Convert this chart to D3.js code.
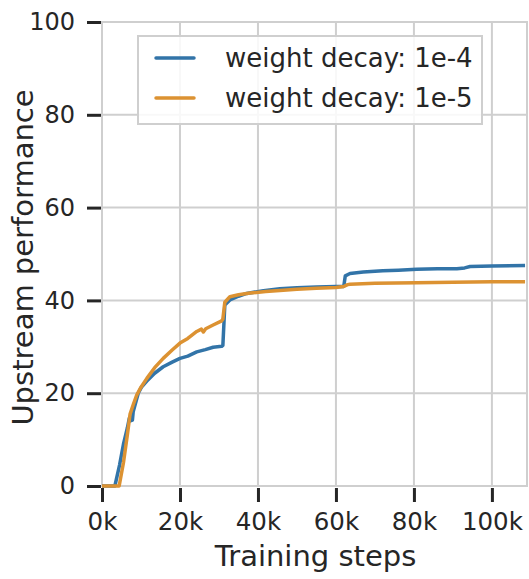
<!DOCTYPE html>
<html>
<head>
<meta charset="utf-8">
<script src="https://cdn.jsdelivr.net/npm/d3@7"></script>
<style>
  html, body { margin: 0; padding: 0; background: #fff; }
  text { font-family: "DejaVu Sans", sans-serif; fill: #262626; }
</style>
</head>
<body>
<svg id="chart" width="529" height="579"></svg>
<script>
// ---- data (training steps in thousands) ----
const xTicks = [0, 20, 40, 60, 80, 100];
const xTickLabels = ["0k", "20k", "40k", "60k", "80k", "100k"];
const yTicks = [0, 20, 40, 60, 80, 100];
const seriesNames = ["weight decay: 1e-4", "weight decay: 1e-5"];
const seriesColors = ["#3274a8", "#dc9232"];

const stepsWD4 = [0, 3.3, 4.5, 5.5, 6.5, 7.0, 7.1, 7.8, 8.0, 9.3, 10.2, 11.5, 13.5, 15.7, 18, 20, 22, 24.3, 26.5, 28.5, 30.7, 31.0, 31.5, 32.8, 35, 37.1, 41.4, 45.6, 50, 55, 60, 62.0, 62.4, 63.6, 67, 72, 76, 80.7, 86, 91, 93, 94.4, 100, 108.5];
const valuesWD4 = [0, 0, 4.5, 9.0, 12.5, 14.6, 14.0, 14.2, 16.0, 20.0, 21.4, 22.6, 24.3, 25.7, 26.7, 27.5, 28.0, 28.9, 29.4, 29.9, 30.1, 30.3, 39.0, 40.1, 40.9, 41.5, 42.1, 42.5, 42.7, 42.9, 43.0, 43.0, 45.3, 45.8, 46.1, 46.4, 46.5, 46.7, 46.8, 46.8, 47.0, 47.3, 47.4, 47.5];

const stepsWD5 = [0, 4.4, 5.5, 6.5, 7.2, 8.0, 8.9, 10.0, 11.5, 13.5, 15.7, 18, 20, 22, 24.3, 25.5, 26.0, 26.6, 28.5, 30.7, 31.0, 31.5, 32.8, 35, 38, 42, 46.5, 50, 55, 60, 62.0, 63.0, 63.6, 70, 80.7, 90, 100, 108.5];
const valuesWD5 = [0, 0, 5.0, 11.0, 15.5, 17.5, 19.6, 21.3, 23.2, 25.5, 27.5, 29.3, 30.8, 31.8, 33.3, 33.8, 33.2, 33.9, 34.7, 35.6, 36.0, 39.6, 40.8, 41.2, 41.6, 41.9, 42.2, 42.4, 42.6, 42.8, 43.0, 43.4, 43.5, 43.7, 43.8, 43.9, 44.0, 44.0];

// ---- layout ----
const svg = d3.select("#chart");
const plotL = 102, plotR = 527, plotT = 22, plotB = 486;

const x = d3.scaleLinear().domain([0, 109]).range([plotL, plotR]);
const y = d3.scaleLinear().domain([0, 100]).range([plotB, plotT]);

// grid
const grid = svg.append("g");
grid.selectAll("line.vx").data(xTicks).enter().append("line")
  .attr("x1", d => x(d)).attr("x2", d => x(d))
  .attr("y1", plotT).attr("y2", plotB)
  .attr("stroke", "#cfcfcf").attr("stroke-width", 2);
grid.selectAll("line.hy").data(yTicks).enter().append("line")
  .attr("x1", plotL).attr("x2", plotR)
  .attr("y1", d => y(d)).attr("y2", d => y(d))
  .attr("stroke", "#cfcfcf").attr("stroke-width", 2);
// frame
svg.append("rect")
  .attr("x", plotL).attr("y", plotT)
  .attr("width", plotR - plotL).attr("height", plotB - plotT)
  .attr("fill", "none").attr("stroke", "#cfcfcf").attr("stroke-width", 2);

// axes
const xAxis = d3.axisBottom(x).tickValues(xTicks)
  .tickFormat((d, i) => xTickLabels[i]).tickSize(14).tickPadding(11);
const gx = svg.append("g").attr("transform", `translate(0,${plotB + 2})`).call(xAxis);
gx.select(".domain").remove();
gx.selectAll(".tick line").attr("stroke", "#262626").attr("stroke-width", 3);
gx.selectAll(".tick text").attr("font-size", 24.5).style("fill", "#262626")
  .attr("font-family", "DejaVu Sans, sans-serif");

const yAxis = d3.axisLeft(y).tickValues(yTicks).tickSize(14).tickPadding(12);
const gy = svg.append("g").attr("transform", `translate(${plotL - 1},0)`).call(yAxis);
gy.select(".domain").remove();
gy.selectAll(".tick line").attr("stroke", "#262626").attr("stroke-width", 3);
gy.selectAll(".tick text").attr("font-size", 24).style("fill", "#262626")
  .attr("font-family", "DejaVu Sans, sans-serif");

// lines
const line = d3.line().x(d => x(d[0])).y(d => y(d[1]));
const data4 = stepsWD4.map((s, i) => [s, valuesWD4[i]]);
const data5 = stepsWD5.map((s, i) => [s, valuesWD5[i]]);
svg.append("clipPath").attr("id", "clip").append("rect")
  .attr("x", plotL).attr("y", plotT).attr("width", plotR - plotL).attr("height", plotB - plotT + 2);
const plot = svg.append("g").attr("clip-path", "url(#clip)");
plot.append("path").datum(data4).attr("d", line)
  .attr("fill", "none").attr("stroke", seriesColors[0]).attr("stroke-width", 3.5)
  .attr("stroke-linejoin", "round");
plot.append("path").datum(data5).attr("d", line)
  .attr("fill", "none").attr("stroke", seriesColors[1]).attr("stroke-width", 3.5)
  .attr("stroke-linejoin", "round");

// axis labels
svg.append("text").attr("x", 315.5).attr("y", 566)
  .attr("text-anchor", "middle").attr("font-size", 29).text("Training steps");
svg.append("text").attr("transform", `translate(33,257.5) rotate(-90)`)
  .attr("text-anchor", "middle").attr("font-size", 29).text("Upstream performance");

// legend
const lg = svg.append("g");
lg.append("rect").attr("x", 138).attr("y", 36).attr("width", 344).attr("height", 88)
  .attr("fill", "#fff").attr("fill-opacity", 0.85)
  .attr("stroke", "#cfcfcf").attr("stroke-width", 2);
seriesNames.forEach((name, i) => {
  const cy = 58 + i * 40;
  lg.append("line").attr("x1", 156).attr("x2", 194).attr("y1", cy).attr("y2", cy)
    .attr("stroke", seriesColors[i]).attr("stroke-width", 3.5).attr("stroke-linecap", "round");
  lg.append("text").attr("x", 225).attr("y", cy).attr("dy", "0.35em")
    .attr("font-size", 26).text(name);
});
</script>
</body>
</html>
